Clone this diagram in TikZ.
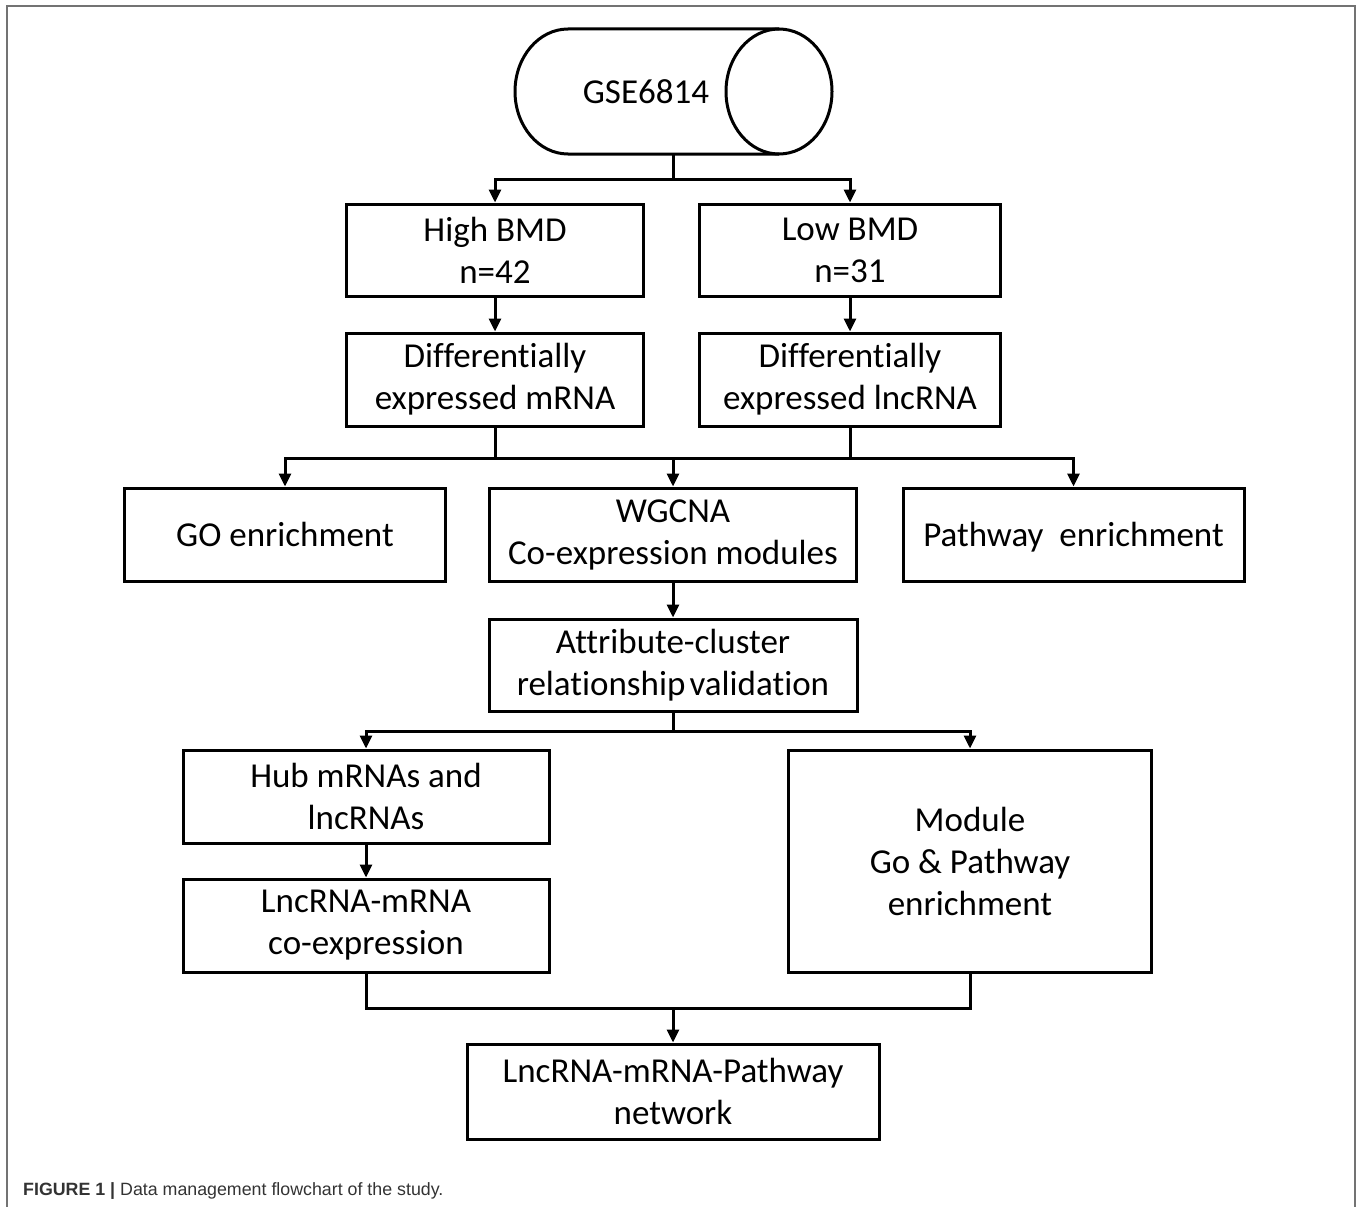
\documentclass[tikz,border=0pt]{standalone}
\usepackage{fontspec}
\setmainfont{Carlito}[Ligatures={NoCommon}]
\newfontfamily\capfont{Liberation Sans}
\usetikzlibrary{arrows.meta}
\tikzset{
  box/.style={draw, line width=3pt, inner sep=0pt, align=center,
    font=\fontsize{35}{42}\selectfont},
  conn/.style={line width=3pt},
  arr/.style={line width=3pt, -{Triangle[length=13pt,width=12pt]}},
}
\begin{document}
\begin{tikzpicture}[x=1pt,y=-1pt]
\useasboundingbox (0,0) rectangle (1358,1207);
% frame
\draw[line width=2pt, black!55] (7,1207) -- (7,6) -- (1355,6) -- (1355,1207);
% cylinder
\draw[line width=3pt, line join=round] (779,29) -- (568,29)
  arc[start angle=270, end angle=90, x radius=53, y radius=62.5] -- (779,154);
\draw[line width=3pt] (779,91.5) ellipse [x radius=53, y radius=62.5];
\node[font=\fontsize{35}{42}\selectfont] (gse) at (646,92) {GSE6814};
\coordinate (gseb) at (673,154);
% boxes
\node[box, minimum width=297pt, minimum height=92pt] (high) at (495,250) {High BMD\\n=42};
\node[box, minimum width=301pt, minimum height=92pt] (low) at (850,250) {Low BMD\\n=31};
\node[box, minimum width=297pt, minimum height=93pt] (de1) at (495,379.5) {Differentially\\expressed mRNA};
\node[box, minimum width=301pt, minimum height=93pt] (de2) at (850,379.5) {Differentially\\expressed lncRNA};
\node[box, minimum width=321pt, minimum height=93pt] (go) at (285,534.5) {GO enrichment};
\node[box, minimum width=367pt, minimum height=93pt] (wgcna) at (673,534.5) {WGCNA\\Co-expression modules};
\node[box, minimum width=341pt, minimum height=93pt] (path) at (1073.5,534.5) {\raisebox{0pt}[\height][0pt]{Pathway\ \ enrichment}};
\node[box, minimum width=368pt, minimum height=92pt] (attr) at (673,665) {Attribute-cluster\\relationship\hspace{0.12em}validation};
\node[box, minimum width=366pt, minimum height=93pt] (hub) at (366,796.5) {Hub mRNAs and\\lncRNAs};
\node[box, minimum width=363pt, minimum height=222pt] (module) at (970,861) {Module\\Go \& Pathway\\enrichment};
\node[box, minimum width=366pt, minimum height=93pt] (lnc) at (366,925.5) {LncRNA-mRNA\\co-expression};
\node[box, minimum width=412pt, minimum height=95pt] (net) at (673,1091.5) {LncRNA-mRNA-Pathway\\network};
% junctions
\coordinate (j1) at (673,179);
\coordinate (j2) at (673,458);
\coordinate (j3) at (673,731);
\coordinate (j4) at (673,1008);
% connectors
\draw[conn] (gseb) -- (j1);
\draw[arr] (j1) -| (high.north);
\draw[arr] (j1) -| (low.north);
\draw[arr] (high) -- (de1);
\draw[arr] (low) -- (de2);
\draw[conn] (de1.south) |- (j2);
\draw[conn] (de2.south) |- (j2);
\draw[arr] (j2) -| (go.north);
\draw[arr] (j2) -- (wgcna.north);
\draw[arr] (j2) -| (path.north);
\draw[arr] (wgcna.south) -- (attr.north);
\draw[conn] (attr.south) -- (j3);
\draw[arr] (j3) -| (hub.north);
\draw[arr] (j3) -| (module.north);
\draw[arr] (hub) -- (lnc);
\draw[conn] (lnc.south) |- (j4);
\draw[conn] (module.south) |- (j4);
\draw[arr] (j4) -- (net.north);
% caption
\node[anchor=base west, inner sep=0pt, text=black!80, font=\capfont\fontsize{17.8}{20}\selectfont] (cap) at (23,1195)
  {\textbf{FIGURE 1 |} Data management flowchart of the study.};
\end{tikzpicture}
\end{document}
